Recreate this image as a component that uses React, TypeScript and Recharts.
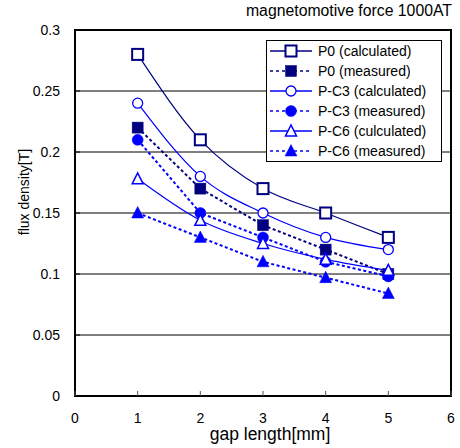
import React from 'react';
import { LineChart, Line, XAxis, YAxis, CartesianGrid, ReferenceArea } from 'recharts';

const gapLengths = [1, 2, 3, 4, 5];
const p0Calculated = [0.28, 0.21, 0.17, 0.15, 0.13];
const p0Measured = [0.22, 0.17, 0.14, 0.12, 0.10];
const pc3Calculated = [0.24, 0.18, 0.15, 0.13, 0.12];
const pc3Measured = [0.21, 0.15, 0.13, 0.11, 0.098];
const pc6Calculated = [0.178, 0.144, 0.125, 0.112, 0.103];
const pc6Measured = [0.15, 0.13, 0.11, 0.097, 0.084];
const xTicks = [0, 1, 2, 3, 4, 5, 6];
const yTicks = [0, 0.05, 0.1, 0.15, 0.2, 0.25, 0.3];

const titleText = 'magnetomotive force 1000AT';
const xLabel = 'gap length[mm]';
const yLabel = 'flux density[T]';

type Marker = 'square' | 'squareFilled' | 'circle' | 'circleFilled' | 'triangle' | 'triangleFilled';

const NAVY = '#000080';
const BLUE = '#0000FF';

const series: { key: string; name: string; values: number[]; color: string; dashed: boolean; marker: Marker }[] = [
  { key: 'p0c', name: 'P0 (calculated)', values: p0Calculated, color: NAVY, dashed: false, marker: 'square' },
  { key: 'p0m', name: 'P0 (measured)', values: p0Measured, color: NAVY, dashed: true, marker: 'squareFilled' },
  { key: 'pc3c', name: 'P-C3 (calculated)', values: pc3Calculated, color: BLUE, dashed: false, marker: 'circle' },
  { key: 'pc3m', name: 'P-C3 (measured)', values: pc3Measured, color: BLUE, dashed: true, marker: 'circleFilled' },
  { key: 'pc6c', name: 'P-C6 (culculated)', values: pc6Calculated, color: BLUE, dashed: false, marker: 'triangle' },
  { key: 'pc6m', name: 'P-C6 (measured)', values: pc6Measured, color: BLUE, dashed: true, marker: 'triangleFilled' },
];

const data = gapLengths.map((g, i) => {
  const row: Record<string, number> = { gap: g };
  series.forEach((s) => {
    row[s.key] = s.values[i];
  });
  return row;
});

function MarkerShape({ kind, color, cx, cy }: { kind: Marker; color: string; cx: number; cy: number }) {
  switch (kind) {
    case 'square':
      return <rect x={cx - 5.5} y={cy - 5.5} width={11} height={11} fill="#fff" stroke={color} strokeWidth={2} />;
    case 'squareFilled':
      return <rect x={cx - 5.5} y={cy - 5.5} width={11} height={11} fill={color} stroke={color} strokeWidth={0.5} />;
    case 'circle':
      return <circle cx={cx} cy={cy} r={5} fill="#fff" stroke={color} strokeWidth={1.3} />;
    case 'circleFilled':
      return <circle cx={cx} cy={cy} r={5.5} fill={color} stroke={color} strokeWidth={0.5} />;
    case 'triangle':
      return (
        <polygon
          points={`${cx},${cy - 6} ${cx - 5.5},${cy + 5} ${cx + 5.5},${cy + 5}`}
          fill="#fff"
          stroke={color}
          strokeWidth={1.5}
        />
      );
    case 'triangleFilled':
      return (
        <polygon
          points={`${cx},${cy - 6.5} ${cx - 6},${cy + 5} ${cx + 6},${cy + 5}`}
          fill={color}
          stroke={color}
          strokeWidth={0.5}
        />
      );
  }
  return null;
}

const FONT = '"Liberation Sans", Arial, sans-serif';

function LegendBox() {
  const rowH = 20;
  return (
    <svg width={176} height={122} style={{ position: 'absolute', left: 266, top: 40, display: 'block' }}>
      <rect x={0.5} y={0.5} width={175} height={121} fill="#fff" stroke="#000" strokeWidth={1} />
      {series.map((s, i) => {
        const y = 11 + i * rowH;
        return (
          <g key={s.key}>
            <line
              x1={4}
              x2={46}
              y1={y}
              y2={y}
              stroke={s.color}
              strokeWidth={1.5}
              strokeDasharray={s.dashed ? '3 3' : undefined}
            />
            <MarkerShape kind={s.marker} color={s.color} cx={25} cy={y} />
            <text x={52} y={y + 5} fontSize={14} fontFamily={FONT} fill="#000">
              {s.name}
            </text>
          </g>
        );
      })}
    </svg>
  );
}

export default function App() {
  return (
    <div style={{ position: 'absolute', left: 0, top: 0, width: 460, height: 448, background: '#fff' }}>
      <LineChart width={460} height={448} data={data} margin={{ top: 30, right: 9, bottom: 22, left: 0 }}>
        <CartesianGrid vertical={false} stroke="#000" strokeWidth={1} horizontalValues={yTicks} />
        <XAxis
          dataKey="gap"
          type="number"
          domain={[0, 6]}
          ticks={xTicks}
          height={30}
          axisLine={false}
          tickSize={-5}
          tickMargin={22}
          tickLine={{ stroke: '#555' }}
          tick={{ fontSize: 14, fill: '#000', fontFamily: FONT }}
          interval={0}
        />
        <YAxis
          type="number"
          domain={[0, 0.3]}
          ticks={yTicks}
          width={75}
          axisLine={false}
          tickSize={-5}
          tickMargin={20}
          tickLine={{ stroke: '#000' }}
          tick={{ fontSize: 14, fill: '#000', fontFamily: FONT }}
          interval={0}
          tickFormatter={(v: number) => String(Number(v.toFixed(2)))}
        />
        <ReferenceArea x1={0} x2={6} y1={0} y2={0.3} fill="none" stroke="#000" strokeWidth={2} ifOverflow="visible" />
        {series.map((s) => (
          <Line
            key={s.key}
            dataKey={s.key}
            name={s.name}
            type={s.dashed ? 'linear' : 'monotone'}
            stroke={s.color}
            strokeWidth={s.dashed ? 2 : 1.2}
            strokeDasharray={s.dashed ? '3 2.5' : undefined}
            isAnimationActive={false}
            dot={(p: any) => <MarkerShape key={`${s.key}-${p.index}`} kind={s.marker} color={s.color} cx={p.cx} cy={p.cy} />}
            activeDot={false}
          />
        ))}
      </LineChart>
      <LegendBox />
      <div
        style={{
          position: 'absolute',
          right: 8,
          top: 2,
          fontFamily: FONT,
          fontSize: 15.8,
          color: '#000',
          whiteSpace: 'nowrap',
        }}
      >
        {titleText}
      </div>
      <svg width={460} height={448} style={{ position: 'absolute', left: 0, top: 0, pointerEvents: 'none' }}>
        <text x={270} y={440} textAnchor="middle" fontSize={17.5} fontFamily={FONT} fill="#000">
          {xLabel}
        </text>
        <text
          x={0}
          y={0}
          transform={`translate(29, 192) rotate(-90)`}
          textAnchor="middle"
          fontSize={14}
          fontFamily={FONT}
          fill="#000"
        >
          {yLabel}
        </text>
      </svg>
    </div>
  );
}
